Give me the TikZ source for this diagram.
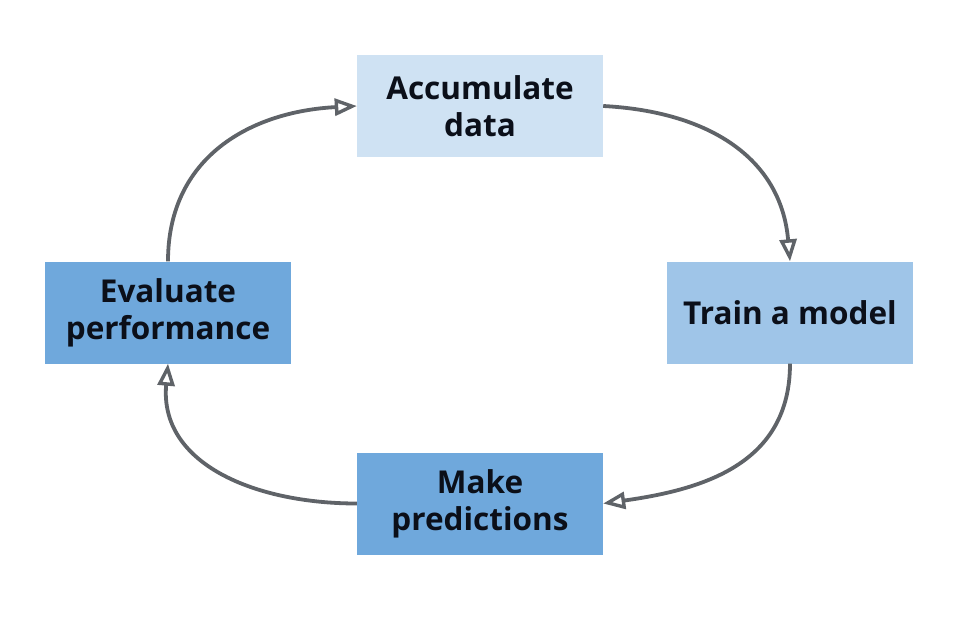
\documentclass[tikz,border=0pt]{standalone}
\usepackage{fontspec}
\setmainfont{Open Sans}
\usetikzlibrary{arrows.meta}
\definecolor{boxA}{HTML}{CFE2F3}
\definecolor{boxB}{HTML}{9FC5E8}
\definecolor{boxC}{HTML}{6FA8DC}
\definecolor{arrowgray}{HTML}{5F6368}
\definecolor{txt}{HTML}{0B0F19}
\tikzset{
  stepbox/.style={minimum width=246pt, minimum height=102pt, inner sep=0pt,
    align=center, text=txt, font=\fontsize{31.5}{37}\selectfont\bfseries},
  flow/.style={draw=arrowgray, line width=3.8pt,
    -{Triangle[open, length=22pt, width=17pt, line width=3.4pt]}}
}
\begin{document}
\begin{tikzpicture}[x=1pt, y=-1pt]
\useasboundingbox (0,0) rectangle (959,627);
\node[stepbox, fill=boxA] (acc) at (480,106) {Accumulate\\data};
\node[stepbox, fill=boxB] (train) at (790,312.5) {Train a model};
\node[stepbox, fill=boxC] (pred) at (480,503.5) {Make\\predictions};
\node[stepbox, fill=boxC] (eval) at (168,312.5) {Evaluate\\performance};
\draw[flow] (acc.east) to[out=-3, in=95, looseness=1.1] (train.north);
\draw[flow] (train.south) to[out=-90, in=8, looseness=1.1] (pred.east);
\draw[flow] (pred.west) to[out=180, in=-95, looseness=1.1] (eval.south);
\draw[flow] (eval.north) to[out=90, in=183, looseness=1.1] (acc.west);
\end{tikzpicture}
\end{document}
